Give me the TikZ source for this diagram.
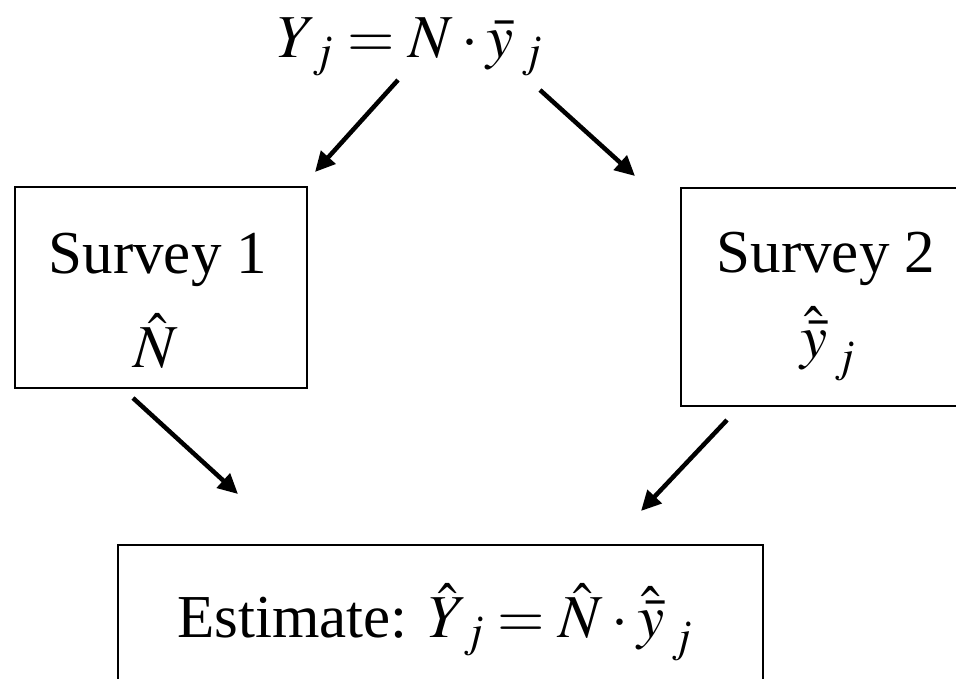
\documentclass[tikz,border=0pt]{standalone}
\usepackage{mathptmx}
\usepackage[no-math]{fontspec}
\setmainfont{Liberation Serif}
\usetikzlibrary{arrows.meta}
\begin{document}
\begin{tikzpicture}[x=1pt,y=-1pt,
  txt/.style={anchor=base,inner sep=0pt,font=\fontsize{61}{70}\selectfont},
  arr/.style={line width=4.5pt,-{Triangle[length=20pt,width=19pt]}}]
\useasboundingbox (0,0) rectangle (956,678);
\fill[white] (0,0) rectangle (956,678);
% boxes
\draw[line width=1.2pt] (15,187) rectangle (307,388);
\node[inner sep=0pt] (s1box) at (161,287.5) {};
\draw[line width=1.2pt] (681,188) rectangle (962,406);
\node[inner sep=0pt] (s2box) at (820,297) {};
\draw[line width=1.2pt] (118,545) rectangle (763,690);
\node[inner sep=0pt] (estbox) at (440,612) {};
% texts
\node[txt] (top) at (410,57) {$Y_{\mkern3mu j} = N\cdot \bar{y}_{\mkern3mu j}$};
\node[txt] (s1a) at (158,273) {Survey 1};
\node[txt] (s1b) at (156,367) {$\hat{N}$};
\node[txt] (s2a) at (826,272) {Survey 2};
\node[txt] (s2b) at (828,357) {$\hat{\bar{y}}_{\mkern3mu j}$};
\node[txt] (est) at (435,637) {Estimate: $\hat{Y}_{\mkern3mu j} = \hat{N}\cdot\hat{\bar{y}}_{\mkern3mu j}$};
% arrows
\coordinate (a1s) at (398,80);  \coordinate (a1e) at (315,172);
\coordinate (a2s) at (540,90);  \coordinate (a2e) at (635,176);
\coordinate (a3s) at (133,398); \coordinate (a3e) at (238,494);
\coordinate (a4s) at (727,420); \coordinate (a4e) at (641,511);
\draw[arr] (a1s) -- (a1e);
\draw[arr] (a2s) -- (a2e);
\draw[arr] (a3s) -- (a3e);
\draw[arr] (a4s) -- (a4e);
\end{tikzpicture}
\end{document}
